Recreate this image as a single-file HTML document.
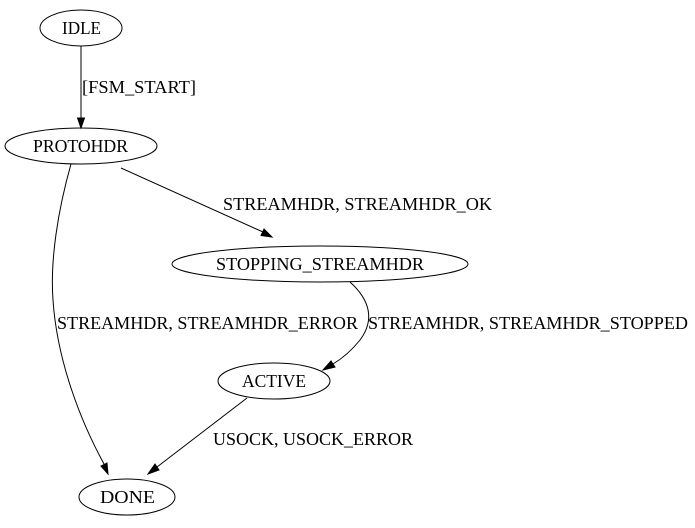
<!DOCTYPE html>
<html><head><meta charset="utf-8"><style>
html,body{margin:0;padding:0;background:#fff;}
svg{display:block;}
text{font-family:"Liberation Serif",serif;font-size:18px;fill:#000;}
</style></head><body>
<svg width="695" height="528" viewBox="0 0 695 528" xmlns="http://www.w3.org/2000/svg">
<g fill="none" stroke="#000" stroke-width="1">
<ellipse cx="81" cy="28" rx="41" ry="18"/>
<ellipse cx="81" cy="146" rx="76" ry="18"/>
<ellipse cx="320" cy="264" rx="148" ry="18"/>
<ellipse cx="274" cy="381" rx="56" ry="18"/>
<ellipse cx="127" cy="497" rx="48" ry="18"/>
<path d="M81,46 L81,118"/>
<path d="M121,168 L263,232"/>
<path d="M71,164 C58,210 50,260 53,300 C57,360 80,420 104,464"/>
<path d="M350,282 C370,300 375,320 360,340 C352,350 343,358 333,364"/>
<path d="M247,398 L157,467"/>
</g>
<g fill="#000" stroke="#000">
<polygon points="77.5,118 81,128 84.5,118"/>
<polygon points="261,235.5 272,237 264,229"/>
<polygon points="101,466 108,474 107,463"/>
<polygon points="331,361 323,370 335,367"/>
<polygon points="155,464 148,474 159,470"/>
</g>
<text x="62" y="34" textLength="39" lengthAdjust="spacingAndGlyphs">IDLE</text>
<text x="33" y="152" textLength="95" lengthAdjust="spacingAndGlyphs">PROTOHDR</text>
<text x="216" y="270" textLength="208" lengthAdjust="spacingAndGlyphs">STOPPING_STREAMHDR</text>
<text x="242" y="387" textLength="64" lengthAdjust="spacingAndGlyphs">ACTIVE</text>
<text x="100" y="503" textLength="55" lengthAdjust="spacingAndGlyphs">DONE</text>
<text x="82" y="93" textLength="114" lengthAdjust="spacingAndGlyphs">[FSM_START]</text>
<text x="223" y="210" textLength="269" lengthAdjust="spacingAndGlyphs">STREAMHDR, STREAMHDR_OK</text>
<text x="57" y="329" textLength="301" lengthAdjust="spacingAndGlyphs">STREAMHDR, STREAMHDR_ERROR</text>
<text x="368" y="329" textLength="320" lengthAdjust="spacingAndGlyphs">STREAMHDR, STREAMHDR_STOPPED</text>
<text x="213" y="445" textLength="200" lengthAdjust="spacingAndGlyphs">USOCK, USOCK_ERROR</text>
</svg>
</body></html>
